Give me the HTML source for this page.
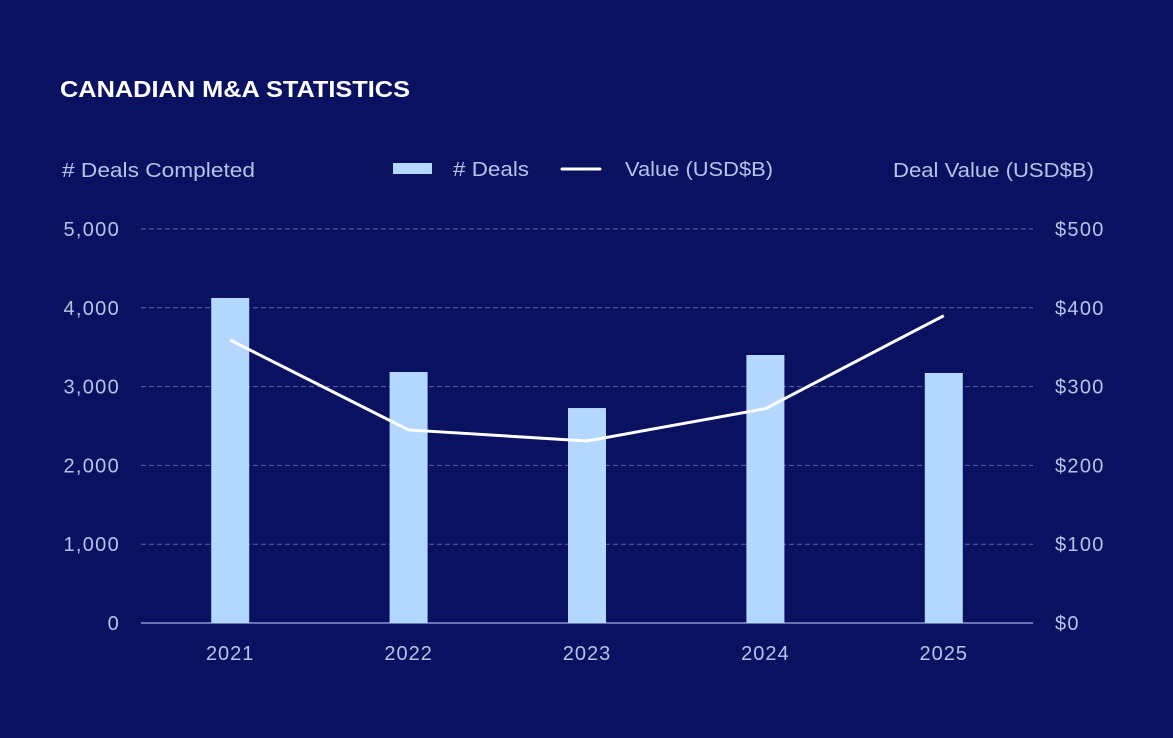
<!DOCTYPE html>
<html><head><meta charset="utf-8"><style>
html,body{margin:0;padding:0;background:#0a1160;}
svg text{font-family:"Liberation Sans",sans-serif;}
</style></head><body>
<svg id="chart" width="1173" height="733" xmlns="http://www.w3.org/2000/svg">
<rect width="1173" height="733" fill="#0a1160"/>
<text x="60" y="97" fill="#ffffff" font-size="23" font-weight="bold" textLength="350" lengthAdjust="spacingAndGlyphs">CANADIAN M&amp;A STATISTICS</text>
<text x="62" y="177" fill="#b8c2e6" font-size="20" textLength="193" lengthAdjust="spacingAndGlyphs"># Deals Completed</text>
<text x="893" y="177" fill="#b8c2e6" font-size="20" textLength="201" lengthAdjust="spacingAndGlyphs">Deal Value (USD$B)</text>
<g>
<rect x="393" y="163" width="39" height="11" fill="#b3d7ff"/>
<text x="453" y="176" fill="#b8c2e6" font-size="20" textLength="76" lengthAdjust="spacingAndGlyphs"># Deals</text>
<line x1="562" y1="169" x2="600" y2="169" stroke="#fff" stroke-width="3" stroke-linecap="round"/>
<text x="625" y="176" fill="#b8c2e6" font-size="20" textLength="148" lengthAdjust="spacingAndGlyphs">Value (USD$B)</text>
</g>
<g id="grid"></g><g id="bars"></g><g id="line"></g><g id="labels"></g>
</svg>
<script>
const categories=["2021","2022","2023","2024","2025"];
const deals=[4125,3185,2728,3401,3173];
const values=[359,245,231,272,390];
const leftTicks=[0,1000,2000,3000,4000,5000];
const leftTickLabels=["0","1,000","2,000","3,000","4,000","5,000"];
const rightTickLabels=["$0","$100","$200","$300","$400","$500"];
const NS="http://www.w3.org/2000/svg";
const X0=141,X1=1033,Y0=623,Y1=229;
const yL=v=>Y0-(v/5000)*(Y0-Y1);
const yR=v=>Y0-(v/500)*(Y0-Y1);
const bw=(X1-X0)/categories.length;
const xC=i=>X0+bw*(i+0.5);
function mk(t,a,p){const e=document.createElementNS(NS,t);for(const k in a)e.setAttribute(k,a[k]);p.appendChild(e);return e;}
const grid=document.getElementById('grid'),bars=document.getElementById('bars'),line=document.getElementById('line'),labels=document.getElementById('labels');
leftTicks.forEach((t,i)=>{
 const y=yL(t);
 if(t>0){const g=mk('line',{x1:X0,x2:X1,y1:y,y2:y,stroke:'#5a63a6','stroke-width':1,'stroke-dasharray':'5,3'},grid);
 
 }
 const l=mk('text',{x:120,y:y+7,fill:'#b8c2e6','font-size':20,'letter-spacing':1.3,'text-anchor':'end'},labels);l.textContent=leftTickLabels[i];
 
 
 const r=mk('text',{x:1055,y:y+7,fill:'#b8c2e6','font-size':20,'letter-spacing':1.3},labels);r.textContent=rightTickLabels[i];
 
 
});
const ax=mk('line',{x1:X0,x2:X1,y1:Y0,y2:Y0,stroke:'#8a93cc','stroke-width':1.5},grid);


categories.forEach((c,i)=>{
 const b=mk('rect',{x:xC(i)-19,y:yL(deals[i]),width:38,height:Y0-yL(deals[i]),fill:'#b3d7ff'},bars);
 
 
 const t=mk('text',{x:xC(i),y:660,fill:'#b8c2e6','font-size':20,'letter-spacing':1,'text-anchor':'middle'},labels);t.textContent=c;
 
 
});
const pl=mk('polyline',{points:values.map((v,i)=>xC(i)+','+yR(v)).join(' '),fill:'none',stroke:'#ffffff','stroke-width':3,'stroke-linejoin':'round'},line);


</script>
</body></html>
